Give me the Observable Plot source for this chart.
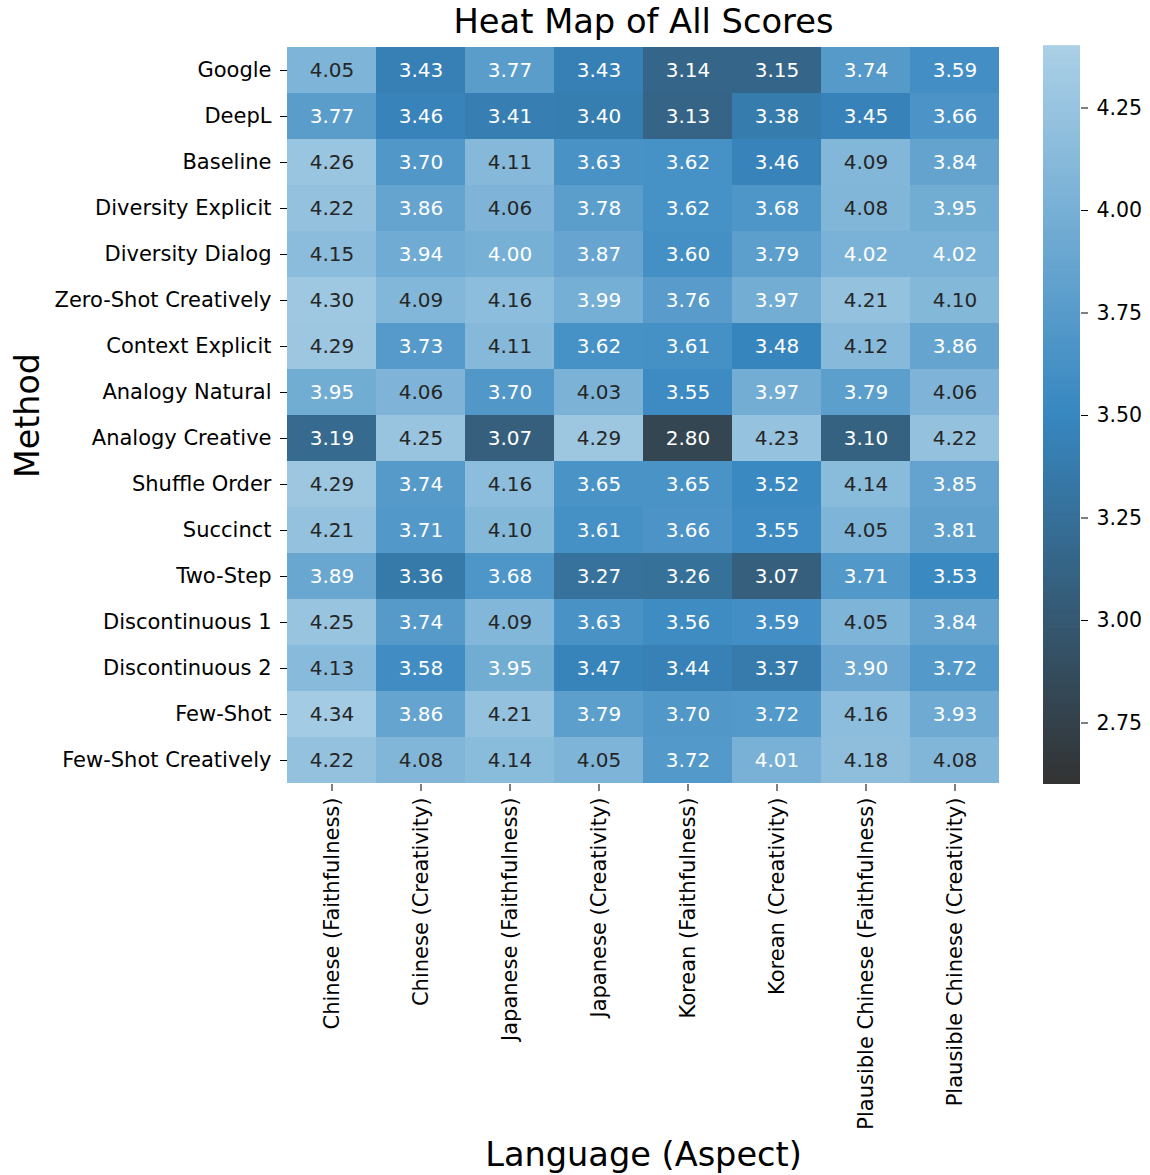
<!DOCTYPE html>
<html>
<head>
<meta charset="utf-8">
<script src="https://cdn.jsdelivr.net/npm/d3@7"></script>
<script src="https://cdn.jsdelivr.net/npm/@observablehq/plot@0.6"></script>
<style>
  html, body { margin: 0; padding: 0; background: #fff; }
  #wrap { position: relative; width: 1150px; height: 1175px; font-family: "DejaVu Sans", sans-serif; }
  #wrap svg { position: absolute; overflow: visible; }
</style>
</head>
<body>
<div id="wrap"></div>
<script>
const methods = ["Google","DeepL","Baseline","Diversity Explicit","Diversity Dialog","Zero-Shot Creatively","Context Explicit","Analogy Natural","Analogy Creative","Shuffle Order","Succinct","Two-Step","Discontinuous 1","Discontinuous 2","Few-Shot","Few-Shot Creatively"];
const aspects = ["Chinese (Faithfulness)","Chinese (Creativity)","Japanese (Faithfulness)","Japanese (Creativity)","Korean (Faithfulness)","Korean (Creativity)","Plausible Chinese (Faithfulness)","Plausible Chinese (Creativity)"];

const chineseFaith     = [4.05,3.77,4.26,4.22,4.15,4.30,4.29,3.95,3.19,4.29,4.21,3.89,4.25,4.13,4.34,4.22];
const chineseCreat     = [3.43,3.46,3.70,3.86,3.94,4.09,3.73,4.06,4.25,3.74,3.71,3.36,3.74,3.58,3.86,4.08];
const japaneseFaith    = [3.77,3.41,4.11,4.06,4.00,4.16,4.11,3.70,3.07,4.16,4.10,3.68,4.09,3.95,4.21,4.14];
const japaneseCreat    = [3.43,3.40,3.63,3.78,3.87,3.99,3.62,4.03,4.29,3.65,3.61,3.27,3.63,3.47,3.79,4.05];
const koreanFaith      = [3.14,3.13,3.62,3.62,3.60,3.76,3.61,3.55,2.80,3.65,3.66,3.26,3.56,3.44,3.70,3.72];
const koreanCreat      = [3.15,3.38,3.46,3.68,3.79,3.97,3.48,3.97,4.23,3.52,3.55,3.07,3.59,3.37,3.72,4.01];
const plausibleFaith   = [3.74,3.45,4.09,4.08,4.02,4.21,4.12,3.79,3.10,4.14,4.05,3.71,4.05,3.90,4.16,4.18];
const plausibleCreat   = [3.59,3.66,3.84,3.95,4.02,4.10,3.86,4.06,4.22,3.85,3.81,3.53,3.84,3.72,3.93,4.08];

const columns = [chineseFaith, chineseCreat, japaneseFaith, japaneseCreat, koreanFaith, koreanCreat, plausibleFaith, plausibleCreat];
const colorDomain = [2.6, 3.5, 4.4];
const colorRange = ["#333333", "#3787c0", "#abd0e6"];
const cbTicks = [2.75, 3.00, 3.25, 3.50, 3.75, 4.00, 4.25];

const data = [];
methods.forEach((m, i) => aspects.forEach((a, j) => data.push({method: m, aspect: a, value: columns[j][i]})));

const colorFn = d3.scaleLinear().domain(colorDomain).range(colorRange).interpolate(d3.interpolateRgb).clamp(true);
function lum(c) {
  const r = d3.rgb(c);
  const f = v => { v /= 255; return v <= 0.03928 ? v / 12.92 : Math.pow((v + 0.055) / 1.055, 2.4); };
  return 0.2126 * f(r.r) + 0.7152 * f(r.g) + 0.0722 * f(r.b);
}
const textColor = d => lum(colorFn(d.value)) > 0.408 ? "#262626" : "#ffffff";

const W = 1150, H = 1175;
const mL = 287, mR = 1150 - 999, mT = 46, mB = H - 784;

const main = Plot.plot({
  width: W, height: H,
  marginLeft: mL, marginRight: mR, marginTop: mT, marginBottom: mB,
  style: {fontFamily: "DejaVu Sans, sans-serif", fontSize: "21px", color: "#000", background: "transparent"},
  x: {domain: aspects, padding: 0, label: null},
  y: {domain: methods, padding: 0, label: null},
  color: {type: "linear", domain: colorDomain, range: colorRange, interpolate: "rgb", clamp: true},
  marks: [
    Plot.cell(data, {x: "aspect", y: "method", fill: "value", inset: 0}),
    Plot.text(data, {x: "aspect", y: "method", text: d => d.value.toFixed(2), fill: textColor, fontSize: 20}),
    Plot.axisX({tickSize: 7, tickPadding: 6, tickRotate: -90, fontSize: 21, label: null}),
    Plot.axisY({tickSize: 7, tickPadding: 9, fontSize: 21, label: null}),
    Plot.text(["Heat Map of All Scores"], {frameAnchor: "top", dy: -24, fontSize: 33.7, fill: "#000", lineAnchor: "middle"}),
    Plot.text(["Language (Aspect)"], {frameAnchor: "bottom", dy: 371, fontSize: 33.6, fill: "#000", lineAnchor: "middle"}),
    Plot.text(["Method"], {frameAnchor: "left", dx: -259, rotate: -90, fontSize: 33.3, fill: "#000", lineAnchor: "middle", textAnchor: "middle"})
  ]
});
main.style.left = "0px"; main.style.top = "0px";
document.getElementById("wrap").appendChild(main);

// colorbar
const steps = d3.range(0, 360).map(i => {
  const lo = colorDomain[0] + (colorDomain[2] - colorDomain[0]) * i / 360;
  const hi = colorDomain[0] + (colorDomain[2] - colorDomain[0]) * (i + 1) / 360;
  return {lo, hi, mid: (lo + hi) / 2};
});
const cb = Plot.plot({
  width: 110, height: 738,
  marginLeft: 0, marginRight: 73, marginTop: 0, marginBottom: 0,
  style: {fontFamily: "DejaVu Sans, sans-serif", fontSize: "20.5px", color: "#000", background: "transparent"},
  x: {domain: [0, 1], axis: null},
  y: {domain: [colorDomain[0], colorDomain[2]], label: null},
  color: {type: "linear", domain: colorDomain, range: colorRange, interpolate: "rgb"},
  marks: [
    Plot.rect(steps, {x1: 0, x2: 1, y1: "lo", y2: d => d.hi + 0.002, fill: "mid"}),
    Plot.axisY({anchor: "right", ticks: cbTicks, tickFormat: d3.format(".2f"), tickSize: 7, tickPadding: 9, fontSize: 20.5, label: null})
  ]
});
cb.style.left = "1043px"; cb.style.top = "46px";
document.getElementById("wrap").appendChild(cb);
</script>
</body>
</html>
